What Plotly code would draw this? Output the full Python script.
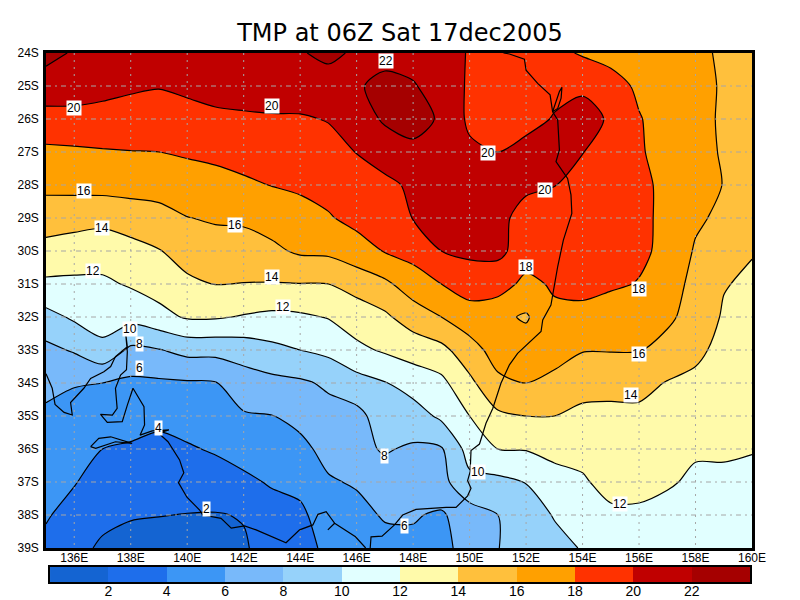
"""TMP at 06Z Sat 17dec2005: contour map over south-east Australia."""
import plotly.graph_objects as go

# grid of the temperature field, one row per degree of latitude
LONS = list(range(135, 161))
LATS = [-24, -25, -26, -27, -28, -29, -30, -31, -32, -33, -34, -35, -36, -37, -38, -39]

T_24S = [22.6, 21.8, 21.5, 21.3, 21.3, 21.3, 21.3, 21.4, 21.6, 21.9, 22.3, 21.8, 21.4, 21.0, 20.6, 19.9, 19.4, 19.0, 18.5, 17.8, 17.4, 17.0, 16.6, 16.3, 15.8, 15.3]
T_25S = [21.1, 20.9, 20.6, 20.3, 20.1, 20.4, 20.7, 20.9, 21.0, 21.1, 21.4, 21.8, 22.5, 22.2, 20.9, 19.8, 19.6, 19.5, 19.6, 19.6, 18.7, 17.7, 17.2, 16.6, 15.8, 15.3]
T_26S = [19.3, 19.4, 19.3, 19.1, 19.05, 19.3, 19.6, 19.7, 19.8, 19.8, 20.1, 20.9, 22.3, 22.6, 21.8, 19.6, 19.4, 19.5, 20.1, 20.9, 19.7, 18.1, 17.3, 16.7, 15.7, 15.3]
T_27S = [17.6, 17.7, 17.85, 17.95, 18.0, 18.2, 18.4, 18.7, 18.9, 19.05, 19.3, 20.05, 20.8, 21.6, 21.2, 20.4, 20.0, 20.5, 20.8, 20.05, 19.2, 18.2, 17.3, 16.7, 15.8, 15.3]
T_28S = [16.45, 16.6, 16.7, 16.7, 16.8, 17.2, 17.4, 17.7, 18.05, 18.3, 18.6, 19.2, 19.6, 20.3, 20.6, 20.7, 20.7, 20.2, 20.05, 19.3, 18.9, 18.5, 17.5, 16.7, 15.95, 15.3]
T_29S = [15.0, 14.7, 14.5, 15.0, 15.3, 15.95, 16.2, 16.3, 16.8, 17.3, 17.85, 18.5, 19.2, 20.05, 20.5, 20.7, 20.3, 19.6, 19.3, 19.1, 18.9, 18.5, 17.5, 16.3, 15.6, 15.2]
T_30S = [13.3, 13.1, 12.9, 13.3, 13.9, 14.85, 15.2, 15.2, 15.6, 16.3, 16.4, 17.25, 18.1, 18.7, 20.0, 20.4, 20.4, 19.2, 19.1, 18.9, 18.7, 18.4, 17.5, 15.8, 15.0, 14.1]
T_31S = [11.65, 11.6, 11.65, 12.2, 12.8, 13.6, 14.05, 13.95, 13.9, 13.95, 14.0, 14.7, 15.6, 17.0, 18.0, 18.9, 19.0, 17.4, 18.3, 18.6, 18.3, 17.9, 16.8, 15.5, 14.1, 13.7]
T_32S = [9.35, 10.3, 10.8, 10.65, 11.4, 12.2, 12.2, 11.85, 11.55, 11.7, 12.1, 13.0, 13.65, 15.0, 16.0, 17.1, 16.4, 15.8, 17.5, 17.4, 16.9, 17.05, 16.4, 15.15, 13.8, 13.4]
T_33S = [7.5, 8.2, 9.5, 7.6, 7.9, 8.6, 8.6, 8.85, 9.5, 10.0, 10.5, 11.55, 12.25, 12.8, 13.45, 15.2, 16.8, 16.9, 16.6, 16.1, 16.1, 16.1, 15.3, 14.3, 13.6, 13.1]
T_34S = [6.45, 6.1, 6.0, 5.6, 5.7, 5.8, 5.9, 7.1, 7.45, 7.7, 8.3, 9.25, 9.9, 10.9, 11.5, 13.55, 15.6, 16.0, 15.6, 14.7, 14.5, 14.55, 13.9, 13.7, 13.2, 12.8]
T_35S = [5.7, 5.4, 5.0, 4.7, 4.4, 4.8, 5.1, 5.8, 5.95, 6.55, 7.35, 7.4, 9.05, 9.05, 10.4, 12.0, 13.65, 14.0, 14.0, 13.55, 13.6, 13.6, 13.3, 12.95, 12.7, 12.4]
T_36S = [5.15, 4.75, 4.0, 3.8, 3.55, 3.8, 4.2, 4.75, 5.1, 5.5, 6.6, 7.6, 8.15, 7.75, 7.8, 10.8, 12.0, 12.1, 12.55, 12.65, 13.0, 13.0, 12.7, 12.2, 12.2, 12.05]
T_37S = [4.6, 4.1, 3.25, 3.0, 2.8, 2.9, 3.1, 3.6, 4.2, 4.4, 5.8, 6.2, 7.2, 7.0, 7.4, 9.5, 9.5, 10.05, 11.25, 11.75, 12.7, 12.7, 12.2, 11.7, 11.7, 11.75]
T_38S = [4.15, 3.4, 2.5, 2.15, 2.05, 1.95, 1.9, 2.1, 3.2, 3.7, 4.8, 5.4, 6.2, 6.15, 5.75, 7.1, 8.0, 9.2, 10.1, 10.7, 11.6, 11.6, 11.4, 11.5, 11.5, 11.6]
T_39S = [3.6, 2.6, 1.7, 1.3, 1.2, 1.2, 1.3, 1.8, 2.8, 3.5, 4.3, 4.9, 5.3, 5.6, 5.5, 6.7, 7.95, 8.9, 9.5, 10.1, 10.6, 10.8, 11.0, 11.2, 11.3, 11.4]

TEMPS = [T_24S, T_25S, T_26S, T_27S, T_28S, T_29S, T_30S, T_31S, T_32S, T_33S, T_34S, T_35S, T_36S, T_37S, T_38S, T_39S]

BAND_COLORS = ["#1464d2", "#1e6eeb", "#3c96f5", "#78b9fa", "#96d2fa", "#e1ffff",
               "#fffaaa", "#ffc03c", "#ffa000", "#ff3200", "#c00000", "#a50000"]
# colour key: edges of the twelve bands and the value inside each
BAND_EDGES = list(range(0, 25, 2))
BAND_MIDS = list(range(1, 24, 2))

LON_TICKS = list(range(136, 161, 2))
LON_LABELS = [f"{v}E" for v in LON_TICKS]
LAT_LABELS = [f"{-v}S" for v in LATS]
LEVEL_TICKS = list(range(2, 23, 2))

# contour labels
LABEL_LON = [147.03, 136.0, 143.0, 150.66, 152.68, 136.33, 141.68, 137.0, 143.02, 136.68, 143.38, 152.0, 156.0, 156.0, 155.7, 155.34, 150.3, 137.99, 138.3, 138.3, 139.0, 140.68, 146.98, 147.7]
LABEL_LAT = [-24.24, -25.67, -25.6, -27.03, -28.15, -28.18, -29.2, -29.3, -30.79, -30.6, -31.7, -30.48, -31.15, -33.12, -34.36, -37.67, -36.7, -32.36, -32.82, -33.55, -35.36, -37.82, -36.2, -38.33]
LABEL_TXT = ["22", "20", "20", "20", "20", "16", "16", "14", "14", "12", "12", "18", "18", "16", "14", "12", "10", "10", "8", "6", "4", "2", "8", "6"]

# coastline, west to east
SA_LON = [135.0, 135.05, 135.22, 135.32, 135.64, 135.93, 135.87, 136.34, 136.58, 137.05, 137.29, 137.46, 137.88, 137.82, 137.88, 137.85, 137.64, 137.46, 137.52, 137.35, 136.93, 137.17, 137.7, 137.88, 138.08, 138.47, 138.49, 138.33, 138.76, 139.35, 138.99, 139.32, 139.73, 139.88, 139.69, 139.99, 140.44, 140.55, 141.2, 141.56, 142.03, 142.44, 143.5, 143.98, 144.45, 144.63, 144.92, 145.22, 144.98, 145.22, 145.96, 146.32]
SA_LAT = [-33.72, -33.81, -34.16, -34.65, -34.89, -34.97, -34.59, -34.16, -33.86, -33.66, -33.5, -33.2, -32.9, -32.49, -33.05, -33.6, -33.76, -34.16, -34.77, -34.97, -34.95, -35.19, -35.17, -34.67, -34.16, -34.72, -35.27, -35.58, -35.45, -35.42, -35.52, -35.78, -36.33, -36.72, -37.02, -37.46, -37.85, -38.0, -38.1, -38.4, -38.33, -38.45, -38.84, -38.45, -38.3, -37.98, -37.9, -38.25, -38.45, -38.25, -38.66, -39.0]
KI_LON = [136.58, 136.87, 137.29, 138.05, 137.46, 137.05, 136.76, 136.58]
KI_LAT = [-35.93, -35.68, -35.63, -35.83, -35.78, -35.91, -35.98, -35.93]
EAST_LON = [146.48, 146.51, 146.9, 147.34, 147.63, 148.1, 149.17, 149.52, 149.93, 150.05, 149.93, 150.02, 150.05, 150.35, 150.58, 150.82, 151.11, 151.41, 151.7, 152.53, 152.59, 152.88, 153.12, 153.32, 153.62, 153.59, 153.47, 153.06, 153.18, 153.12, 152.94, 152.85, 152.41, 152.0, 151.94, 151.41, 151.2]
EAST_LAT = [-39.0, -38.66, -38.64, -38.3, -38.0, -37.83, -37.77, -37.77, -37.42, -37.19, -36.96, -36.69, -36.05, -35.85, -35.22, -34.77, -34.01, -33.45, -33.1, -32.44, -32.09, -31.64, -30.47, -29.67, -28.86, -28.3, -27.8, -27.29, -26.94, -26.03, -25.78, -25.27, -24.92, -24.52, -24.19, -24.03, -24.0]
FRASER_LON = [152.94, 153.18, 153.27, 153.24, 153.12, 152.94]
FRASER_LAT = [-25.78, -25.17, -25.04, -25.37, -25.68, -25.78]

FONT = "Liberation Sans"
GRID = "#a6a6a6"

n = len(BAND_COLORS)
colorscale = []
for i, c in enumerate(BAND_COLORS):
    colorscale += [[i / n, c], [(i + 1) / n, c]]

fig = go.Figure()

# filled bands
fig.add_trace(go.Contour(
    x=LONS, y=LATS, z=TEMPS,
    zmin=0, zmax=24, colorscale=colorscale, showscale=False,
    contours=dict(start=2, end=22, size=2, coloring="fill", showlines=False),
    line=dict(width=0, smoothing=0.8),
    hoverinfo="skip",
))

# dotted grid sits above the fill but under the contour lines
for lon in LON_TICKS[:-1]:
    fig.add_trace(go.Scatter(x=[lon, lon], y=[LATS[0], LATS[-1]], mode="lines",
                             line=dict(color=GRID, width=1, dash="2px,5px"), hoverinfo="skip"))
for lat in LATS[1:-1]:
    fig.add_trace(go.Scatter(x=[LONS[0], LONS[-1]], y=[lat, lat], mode="lines",
                             line=dict(color=GRID, width=1, dash="5px,4px,2px,4px"), hoverinfo="skip"))

fig.add_trace(go.Contour(
    x=LONS, y=LATS, z=TEMPS,
    contours=dict(start=2, end=22, size=2, coloring="none"),
    line=dict(color="black", width=1.2, smoothing=0.8),
    showscale=False, hoverinfo="skip",
))

for xs, ys in [(SA_LON, SA_LAT), (KI_LON, KI_LAT), (EAST_LON, EAST_LAT), (FRASER_LON, FRASER_LAT)]:
    fig.add_trace(go.Scatter(x=xs, y=ys, mode="lines",
                             line=dict(color="black", width=1.2), hoverinfo="skip"))

for lon, lat, txt in zip(LABEL_LON, LABEL_LAT, LABEL_TXT):
    fig.add_annotation(x=lon, y=lat, text=txt, showarrow=False, bgcolor="white",
                       font=dict(family=FONT, size=12, color="black"), borderpad=0)

# colour key, drawn as a one-row heatmap on its own axes so it can sit exactly under the map
fig.add_trace(go.Heatmap(
    x=BAND_EDGES, y=[0, 1], z=[BAND_MIDS],
    zmin=0, zmax=24, colorscale=colorscale, showscale=False,
    xaxis="x2", yaxis="y2", hoverinfo="skip",
))

fig.update_layout(
    # the page body keeps its default 8px margin
    width=784, height=590,
    margin=dict(l=38, r=40, t=45, b=14, autoexpand=False),
    paper_bgcolor="white", plot_bgcolor="white",
    showlegend=False,
    font=dict(family=FONT, color="black"),
    title=dict(text="TMP at 06Z Sat 17dec2005", x=0.5, xanchor="center", yref="container", y=0.958, yanchor="middle",
               automargin=False, font=dict(family="DejaVu Sans", size=24, color="black")),
    xaxis=dict(range=[135, 160], tickvals=LON_TICKS, ticktext=LON_LABELS, showgrid=False, zeroline=False,
               automargin=False, ticks="", tickfont=dict(size=12), ticklabelstandoff=-3, showline=True, mirror=True,
               linecolor="black", linewidth=2.5),
    yaxis=dict(domain=[0.0678, 1], range=[-39, -24], tickvals=LATS, ticktext=LAT_LABELS, showgrid=False,
               automargin=False, zeroline=False, ticks="", tickfont=dict(size=12), ticklabelstandoff=2, showline=True,
               mirror=True, linecolor="black", linewidth=2.5),
    xaxis2=dict(domain=[0.0057, 0.9972], anchor="y2", range=[0, 24], tickvals=LEVEL_TICKS, ticks="",
                automargin=False, tickfont=dict(size=14), ticklabelstandoff=-5, showgrid=False, zeroline=False,
                showline=True, mirror=True, linecolor="black", linewidth=1.5),
    yaxis2=dict(domain=[0.0038, 0.032], anchor="x2", range=[0, 1], showticklabels=False, ticks="",
                automargin=False, showgrid=False, zeroline=False, showline=True, mirror=True,
                linecolor="black", linewidth=1.5),
)

fig.write_html("out.html")
